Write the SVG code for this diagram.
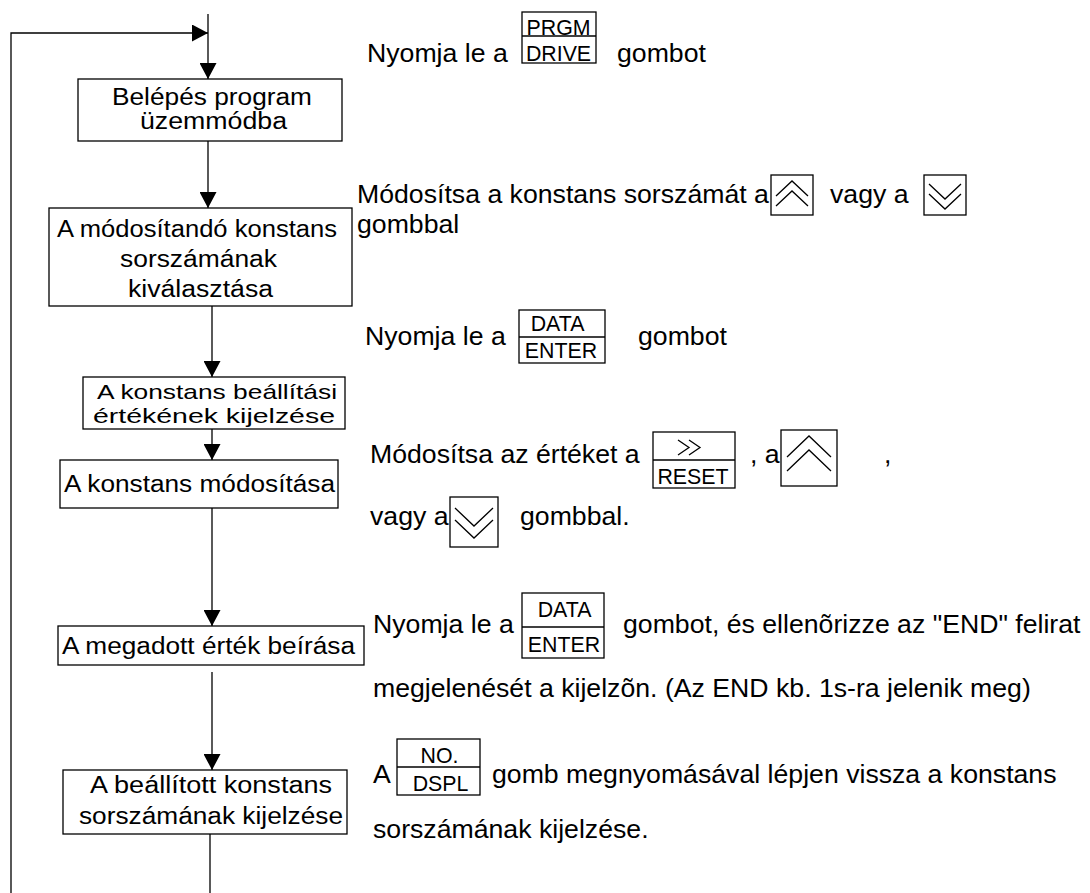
<svg xmlns="http://www.w3.org/2000/svg" width="1090" height="893" viewBox="0 0 1090 893">
<defs>
<style>
.bx{fill:#fff;stroke:#000;stroke-width:1.3}
.bt{font-family:"Liberation Sans",Arial,sans-serif;font-size:23px;fill:#000}
.bs{font-family:"Liberation Sans",Arial,sans-serif;font-size:21px;fill:#000}
.st{font-family:"Liberation Sans",Arial,sans-serif;font-size:26.67px;fill:#000}
.kt{font-family:"Liberation Sans",Arial,sans-serif;font-size:21.33px;fill:#000;text-anchor:middle}
.kb{fill:none;stroke:#000;stroke-width:1.3}
.ch{fill:none;stroke:#000;stroke-width:1.3}
.cn{fill:none;stroke:#000;stroke-width:1.3}
</style>
<marker id="ah" viewBox="0 0 16 17" refX="16" refY="8.5" markerWidth="16" markerHeight="17" markerUnits="userSpaceOnUse" orient="auto">
<path d="M0,0 L16,8.5 L0,17 z" fill="#000"/>
</marker>
</defs>
<rect width="1090" height="893" fill="#fff"/>

<g id="connectors">
<path class="cn" d="M11,893 V33 H208" marker-end="url(#ah)"/>
<line class="cn" x1="208" y1="14" x2="208" y2="79" marker-end="url(#ah)"/>
<line class="cn" x1="208" y1="141" x2="208" y2="208" marker-end="url(#ah)"/>
<line class="cn" x1="212" y1="306" x2="212" y2="377" marker-end="url(#ah)"/>
<line class="cn" x1="212" y1="429" x2="212" y2="460" marker-end="url(#ah)"/>
<line class="cn" x1="212" y1="508" x2="212" y2="626" marker-end="url(#ah)"/>
<line class="cn" x1="212" y1="672" x2="212" y2="770" marker-end="url(#ah)"/>
<line class="cn" x1="210" y1="834" x2="210" y2="893"/>
</g>

<g id="n1">
<rect class="bx" x="78" y="79" width="264" height="62"/>
<text class="bt" x="112" y="105" textLength="200" lengthAdjust="spacingAndGlyphs">Belépés program</text>
<text class="bt" x="140" y="129" textLength="147" lengthAdjust="spacingAndGlyphs">üzemmódba</text>
</g>
<g id="n2">
<rect class="bx" x="49" y="208" width="303" height="98"/>
<text class="bt" x="57" y="237" textLength="280" lengthAdjust="spacingAndGlyphs">A módosítandó konstans</text>
<text class="bt" x="120" y="267" textLength="157" lengthAdjust="spacingAndGlyphs">sorszámának</text>
<text class="bt" x="128" y="297" textLength="145" lengthAdjust="spacingAndGlyphs">kiválasztása</text>
</g>
<g id="n3">
<rect class="bx" x="83" y="377" width="262" height="52"/>
<text class="bs" x="97" y="399" textLength="240" lengthAdjust="spacingAndGlyphs">A konstans beállítási</text>
<text class="bs" x="93" y="423" textLength="242" lengthAdjust="spacingAndGlyphs">értékének kijelzése</text>
</g>
<g id="n4">
<rect class="bx" x="60" y="460" width="278" height="48"/>
<text class="bt" x="64" y="492" textLength="271" lengthAdjust="spacingAndGlyphs">A konstans módosítása</text>
</g>
<g id="n5">
<rect class="bx" x="58" y="626" width="306" height="39"/>
<text class="bt" x="62" y="654" textLength="293" lengthAdjust="spacingAndGlyphs">A megadott érték beírása</text>
</g>
<g id="n6">
<rect class="bx" x="63" y="770" width="284" height="64"/>
<text class="bt" x="90" y="793" textLength="242" lengthAdjust="spacingAndGlyphs">A beállított konstans</text>
<text class="bt" x="79" y="824" textLength="264" lengthAdjust="spacingAndGlyphs">sorszámának kijelzése</text>
</g>

<g id="step1">
<text class="st" x="367" y="62">Nyomja le a</text>
<rect class="kb" x="522" y="12" width="74" height="51"/>
<line class="kb" x1="522" y1="36" x2="596" y2="36"/>
<text class="kt" x="558.5" y="35">PRGM</text>
<text class="kt" x="558.5" y="61">DRIVE</text>
<text class="st" x="617" y="62">gombot</text>
</g>

<g id="step2">
<text class="st" x="357" y="203">Módosítsa a konstans sorszámát a</text>
<rect class="kb" x="771" y="175" width="42" height="40"/>
<polyline class="ch" points="776,196 792,181 808,196"/>
<polyline class="ch" points="776,206 792,191 808,206"/>
<text class="st" x="830" y="203">vagy a</text>
<rect class="kb" x="924" y="175" width="42" height="40"/>
<polyline class="ch" points="929,184 945,199 961,184"/>
<polyline class="ch" points="929,194 945,209 961,194"/>
<text class="st" x="357" y="233">gombbal</text>
</g>

<g id="step3">
<text class="st" x="365" y="345">Nyomja le a</text>
<rect class="kb" x="519" y="310" width="86" height="53"/>
<line class="kb" x1="519" y1="337" x2="605" y2="337"/>
<text class="kt" x="557.5" y="331">DATA</text>
<text class="kt" x="561" y="358">ENTER</text>
<text class="st" x="638" y="345">gombot</text>
</g>

<g id="step4">
<text class="st" x="370" y="463">Módosítsa az értéket a</text>
<rect class="kb" x="653" y="432" width="82" height="56"/>
<line class="kb" x1="653" y1="460" x2="735" y2="460"/>
<polyline class="ch" points="678,440 689,447.5 678,455"/>
<polyline class="ch" points="689,440 700,447.5 689,455"/>
<text class="kt" x="693" y="484">RESET</text>
<text class="st" x="750" y="463">, a</text>
<rect class="kb" x="781" y="430" width="56" height="56"/>
<polyline class="ch" points="787,457 809,436 831,457"/>
<polyline class="ch" points="787,471 809,450 831,471"/>
<text class="st" x="884" y="463">,</text>
<text class="st" x="370" y="525">vagy a</text>
<rect class="kb" x="450" y="497" width="48" height="50"/>
<polyline class="ch" points="455,508 474,526 493,508"/>
<polyline class="ch" points="455,520 474,538 493,520"/>
<text class="st" x="520" y="525">gombbal.</text>
</g>

<g id="step5">
<text class="st" x="373" y="633">Nyomja le a</text>
<rect class="kb" x="522" y="593" width="82" height="65"/>
<line class="kb" x1="522" y1="627" x2="604" y2="627"/>
<text class="kt" x="564.5" y="617">DATA</text>
<text class="kt" x="564" y="652">ENTER</text>
<text class="st" x="623" y="633">gombot, és ellenõrizze az "END" felirat</text>
<text class="st" x="373" y="697">megjelenését a kijelzõn. (Az END kb. 1s-ra jelenik meg)</text>
</g>

<g id="step6">
<text class="st" x="373" y="783">A</text>
<rect class="kb" x="397" y="739" width="83" height="56"/>
<line class="kb" x1="397" y1="767" x2="480" y2="767"/>
<text class="kt" x="439.5" y="763">NO.</text>
<text class="kt" x="440.5" y="791">DSPL</text>
<text class="st" x="492" y="783">gomb megnyomásával lépjen vissza a konstans</text>
<text class="st" x="373" y="838">sorszámának kijelzése.</text>
</g>
</svg>
